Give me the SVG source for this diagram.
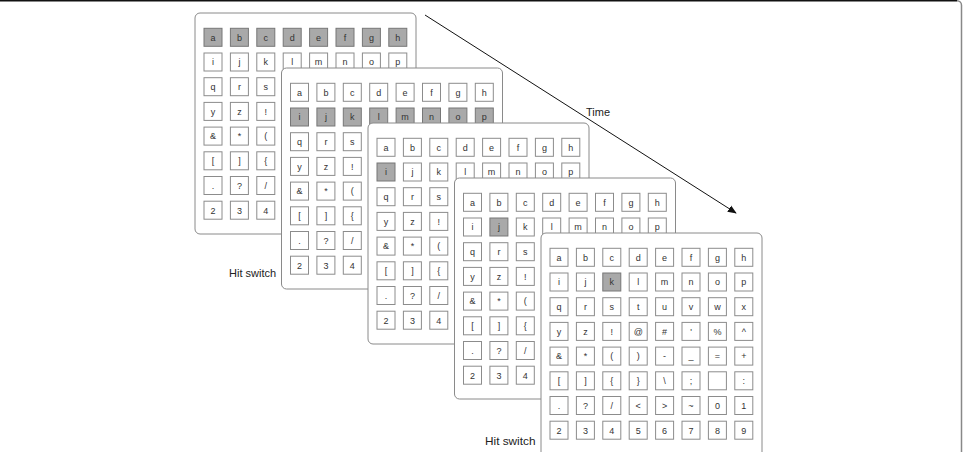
<svg xmlns="http://www.w3.org/2000/svg" xmlns:xlink="http://www.w3.org/1999/xlink" width="964" height="452" viewBox="0 0 964 452">
<style>
.panel{fill:#fff;stroke:#8a8a8a;stroke-width:1}
.t{font-family:"Liberation Sans",Arial,sans-serif;font-size:9px;fill:#333;text-anchor:middle}
.lbl{font-family:"Liberation Sans",Arial,sans-serif;font-size:11px;fill:#222}
</style>
<defs>
<rect id="k" width="18" height="18" fill="#fff" stroke="#8c8c8c" stroke-width="1"/>
<rect id="h" width="18" height="18" fill="#a9a9a9" stroke="#777" stroke-width="1"/>
<marker id="arr" viewBox="0 0 10 10" refX="9" refY="5" markerWidth="9" markerHeight="9" markerUnits="userSpaceOnUse" orient="auto"><path d="M0,1 L10,5 L0,9 z" fill="#111"/></marker>
</defs>
<g id="frame" fill="none">
<path d="M-5 0.75 H957" stroke="#111" stroke-width="1.5"/>
<path d="M957 0.75 A4.5 4.5 0 0 1 961.5 5.25 V460" stroke="#888" stroke-width="1.5"/>
</g>
<g id="connectors">
<line x1="425" y1="15" x2="736" y2="213" stroke="#111" stroke-width="1" marker-end="url(#arr)"/>
</g>
<text id="time-label" class="lbl" x="586" y="116">Time</text>
<text id="hit1" class="lbl" x="229" y="277">Hit switch</text>
<text id="hit2" class="lbl" x="485" y="445" style="font-size:11.8px">Hit switch</text>

<g id="panel1" transform="translate(195,13)">
<rect class="panel" width="221" height="221" rx="5"/>
<use href="#h" x="9" y="15.3"/><use href="#h" x="35.4" y="15.3"/><use href="#h" x="61.8" y="15.3"/><use href="#h" x="88.2" y="15.3"/><use href="#h" x="114.6" y="15.3"/><use href="#h" x="141" y="15.3"/><use href="#h" x="167.4" y="15.3"/><use href="#h" x="193.8" y="15.3"/>
<use href="#k" x="9" y="40"/><use href="#k" x="35.4" y="40"/><use href="#k" x="61.8" y="40"/><use href="#k" x="88.2" y="40"/><use href="#k" x="114.6" y="40"/><use href="#k" x="141" y="40"/><use href="#k" x="167.4" y="40"/><use href="#k" x="193.8" y="40"/>
<use href="#k" x="9" y="64.7"/><use href="#k" x="35.4" y="64.7"/><use href="#k" x="61.8" y="64.7"/>
<use href="#k" x="9" y="89.4"/><use href="#k" x="35.4" y="89.4"/><use href="#k" x="61.8" y="89.4"/>
<use href="#k" x="9" y="114.1"/><use href="#k" x="35.4" y="114.1"/><use href="#k" x="61.8" y="114.1"/>
<use href="#k" x="9" y="138.8"/><use href="#k" x="35.4" y="138.8"/><use href="#k" x="61.8" y="138.8"/>
<use href="#k" x="9" y="163.5"/><use href="#k" x="35.4" y="163.5"/><use href="#k" x="61.8" y="163.5"/>
<use href="#k" x="9" y="188.2"/><use href="#k" x="35.4" y="188.2"/><use href="#k" x="61.8" y="188.2"/>
<text class="t" x="18" y="27.6">a</text><text class="t" x="44.4" y="27.6">b</text><text class="t" x="70.8" y="27.6">c</text><text class="t" x="97.2" y="27.6">d</text><text class="t" x="123.6" y="27.6">e</text><text class="t" x="150" y="27.6">f</text><text class="t" x="176.4" y="27.6">g</text><text class="t" x="202.8" y="27.6">h</text>
<text class="t" x="18" y="52.3">i</text><text class="t" x="44.4" y="52.3">j</text><text class="t" x="70.8" y="52.3">k</text><text class="t" x="97.2" y="52.3">l</text><text class="t" x="123.6" y="52.3">m</text><text class="t" x="150" y="52.3">n</text><text class="t" x="176.4" y="52.3">o</text><text class="t" x="202.8" y="52.3">p</text>
<text class="t" x="18" y="77">q</text><text class="t" x="44.4" y="77">r</text><text class="t" x="70.8" y="77">s</text>
<text class="t" x="18" y="101.7">y</text><text class="t" x="44.4" y="101.7">z</text><text class="t" x="70.8" y="101.7">!</text>
<text class="t" x="18" y="126.4">&amp;</text><text class="t" x="44.4" y="126.4">*</text><text class="t" x="70.8" y="126.4">(</text>
<text class="t" x="18" y="151.1">[</text><text class="t" x="44.4" y="151.1">]</text><text class="t" x="70.8" y="151.1">{</text>
<text class="t" x="18" y="175.8">.</text><text class="t" x="44.4" y="175.8">?</text><text class="t" x="70.8" y="175.8">/</text>
<text class="t" x="18" y="200.5">2</text><text class="t" x="44.4" y="200.5">3</text><text class="t" x="70.8" y="200.5">4</text>
</g>

<g id="panel2" transform="translate(281.5,68)">
<rect class="panel" width="221" height="221" rx="5"/>
<use href="#k" x="9" y="15.3"/><use href="#k" x="35.4" y="15.3"/><use href="#k" x="61.8" y="15.3"/><use href="#k" x="88.2" y="15.3"/><use href="#k" x="114.6" y="15.3"/><use href="#k" x="141" y="15.3"/><use href="#k" x="167.4" y="15.3"/><use href="#k" x="193.8" y="15.3"/>
<use href="#h" x="9" y="40"/><use href="#h" x="35.4" y="40"/><use href="#h" x="61.8" y="40"/><use href="#h" x="88.2" y="40"/><use href="#h" x="114.6" y="40"/><use href="#h" x="141" y="40"/><use href="#h" x="167.4" y="40"/><use href="#h" x="193.8" y="40"/>
<use href="#k" x="9" y="64.7"/><use href="#k" x="35.4" y="64.7"/><use href="#k" x="61.8" y="64.7"/>
<use href="#k" x="9" y="89.4"/><use href="#k" x="35.4" y="89.4"/><use href="#k" x="61.8" y="89.4"/>
<use href="#k" x="9" y="114.1"/><use href="#k" x="35.4" y="114.1"/><use href="#k" x="61.8" y="114.1"/>
<use href="#k" x="9" y="138.8"/><use href="#k" x="35.4" y="138.8"/><use href="#k" x="61.8" y="138.8"/>
<use href="#k" x="9" y="163.5"/><use href="#k" x="35.4" y="163.5"/><use href="#k" x="61.8" y="163.5"/>
<use href="#k" x="9" y="188.2"/><use href="#k" x="35.4" y="188.2"/><use href="#k" x="61.8" y="188.2"/>
<text class="t" x="18" y="27.6">a</text><text class="t" x="44.4" y="27.6">b</text><text class="t" x="70.8" y="27.6">c</text><text class="t" x="97.2" y="27.6">d</text><text class="t" x="123.6" y="27.6">e</text><text class="t" x="150" y="27.6">f</text><text class="t" x="176.4" y="27.6">g</text><text class="t" x="202.8" y="27.6">h</text>
<text class="t" x="18" y="52.3">i</text><text class="t" x="44.4" y="52.3">j</text><text class="t" x="70.8" y="52.3">k</text><text class="t" x="97.2" y="52.3">l</text><text class="t" x="123.6" y="52.3">m</text><text class="t" x="150" y="52.3">n</text><text class="t" x="176.4" y="52.3">o</text><text class="t" x="202.8" y="52.3">p</text>
<text class="t" x="18" y="77">q</text><text class="t" x="44.4" y="77">r</text><text class="t" x="70.8" y="77">s</text>
<text class="t" x="18" y="101.7">y</text><text class="t" x="44.4" y="101.7">z</text><text class="t" x="70.8" y="101.7">!</text>
<text class="t" x="18" y="126.4">&amp;</text><text class="t" x="44.4" y="126.4">*</text><text class="t" x="70.8" y="126.4">(</text>
<text class="t" x="18" y="151.1">[</text><text class="t" x="44.4" y="151.1">]</text><text class="t" x="70.8" y="151.1">{</text>
<text class="t" x="18" y="175.8">.</text><text class="t" x="44.4" y="175.8">?</text><text class="t" x="70.8" y="175.8">/</text>
<text class="t" x="18" y="200.5">2</text><text class="t" x="44.4" y="200.5">3</text><text class="t" x="70.8" y="200.5">4</text>
</g>

<g id="panel3" transform="translate(368,123)">
<rect class="panel" width="221" height="221" rx="5"/>
<use href="#k" x="9" y="15.3"/><use href="#k" x="35.4" y="15.3"/><use href="#k" x="61.8" y="15.3"/><use href="#k" x="88.2" y="15.3"/><use href="#k" x="114.6" y="15.3"/><use href="#k" x="141" y="15.3"/><use href="#k" x="167.4" y="15.3"/><use href="#k" x="193.8" y="15.3"/>
<use href="#h" x="9" y="40"/><use href="#k" x="35.4" y="40"/><use href="#k" x="61.8" y="40"/><use href="#k" x="88.2" y="40"/><use href="#k" x="114.6" y="40"/><use href="#k" x="141" y="40"/><use href="#k" x="167.4" y="40"/><use href="#k" x="193.8" y="40"/>
<use href="#k" x="9" y="64.7"/><use href="#k" x="35.4" y="64.7"/><use href="#k" x="61.8" y="64.7"/>
<use href="#k" x="9" y="89.4"/><use href="#k" x="35.4" y="89.4"/><use href="#k" x="61.8" y="89.4"/>
<use href="#k" x="9" y="114.1"/><use href="#k" x="35.4" y="114.1"/><use href="#k" x="61.8" y="114.1"/>
<use href="#k" x="9" y="138.8"/><use href="#k" x="35.4" y="138.8"/><use href="#k" x="61.8" y="138.8"/>
<use href="#k" x="9" y="163.5"/><use href="#k" x="35.4" y="163.5"/><use href="#k" x="61.8" y="163.5"/>
<use href="#k" x="9" y="188.2"/><use href="#k" x="35.4" y="188.2"/><use href="#k" x="61.8" y="188.2"/>
<text class="t" x="18" y="27.6">a</text><text class="t" x="44.4" y="27.6">b</text><text class="t" x="70.8" y="27.6">c</text><text class="t" x="97.2" y="27.6">d</text><text class="t" x="123.6" y="27.6">e</text><text class="t" x="150" y="27.6">f</text><text class="t" x="176.4" y="27.6">g</text><text class="t" x="202.8" y="27.6">h</text>
<text class="t" x="18" y="52.3">i</text><text class="t" x="44.4" y="52.3">j</text><text class="t" x="70.8" y="52.3">k</text><text class="t" x="97.2" y="52.3">l</text><text class="t" x="123.6" y="52.3">m</text><text class="t" x="150" y="52.3">n</text><text class="t" x="176.4" y="52.3">o</text><text class="t" x="202.8" y="52.3">p</text>
<text class="t" x="18" y="77">q</text><text class="t" x="44.4" y="77">r</text><text class="t" x="70.8" y="77">s</text>
<text class="t" x="18" y="101.7">y</text><text class="t" x="44.4" y="101.7">z</text><text class="t" x="70.8" y="101.7">!</text>
<text class="t" x="18" y="126.4">&amp;</text><text class="t" x="44.4" y="126.4">*</text><text class="t" x="70.8" y="126.4">(</text>
<text class="t" x="18" y="151.1">[</text><text class="t" x="44.4" y="151.1">]</text><text class="t" x="70.8" y="151.1">{</text>
<text class="t" x="18" y="175.8">.</text><text class="t" x="44.4" y="175.8">?</text><text class="t" x="70.8" y="175.8">/</text>
<text class="t" x="18" y="200.5">2</text><text class="t" x="44.4" y="200.5">3</text><text class="t" x="70.8" y="200.5">4</text>
</g>

<g id="panel4" transform="translate(454.5,178)">
<rect class="panel" width="221" height="221" rx="5"/>
<use href="#k" x="9" y="15.3"/><use href="#k" x="35.4" y="15.3"/><use href="#k" x="61.8" y="15.3"/><use href="#k" x="88.2" y="15.3"/><use href="#k" x="114.6" y="15.3"/><use href="#k" x="141" y="15.3"/><use href="#k" x="167.4" y="15.3"/><use href="#k" x="193.8" y="15.3"/>
<use href="#k" x="9" y="40"/><use href="#h" x="35.4" y="40"/><use href="#k" x="61.8" y="40"/><use href="#k" x="88.2" y="40"/><use href="#k" x="114.6" y="40"/><use href="#k" x="141" y="40"/><use href="#k" x="167.4" y="40"/><use href="#k" x="193.8" y="40"/>
<use href="#k" x="9" y="64.7"/><use href="#k" x="35.4" y="64.7"/><use href="#k" x="61.8" y="64.7"/>
<use href="#k" x="9" y="89.4"/><use href="#k" x="35.4" y="89.4"/><use href="#k" x="61.8" y="89.4"/>
<use href="#k" x="9" y="114.1"/><use href="#k" x="35.4" y="114.1"/><use href="#k" x="61.8" y="114.1"/>
<use href="#k" x="9" y="138.8"/><use href="#k" x="35.4" y="138.8"/><use href="#k" x="61.8" y="138.8"/>
<use href="#k" x="9" y="163.5"/><use href="#k" x="35.4" y="163.5"/><use href="#k" x="61.8" y="163.5"/>
<use href="#k" x="9" y="188.2"/><use href="#k" x="35.4" y="188.2"/><use href="#k" x="61.8" y="188.2"/>
<text class="t" x="18" y="27.6">a</text><text class="t" x="44.4" y="27.6">b</text><text class="t" x="70.8" y="27.6">c</text><text class="t" x="97.2" y="27.6">d</text><text class="t" x="123.6" y="27.6">e</text><text class="t" x="150" y="27.6">f</text><text class="t" x="176.4" y="27.6">g</text><text class="t" x="202.8" y="27.6">h</text>
<text class="t" x="18" y="52.3">i</text><text class="t" x="44.4" y="52.3">j</text><text class="t" x="70.8" y="52.3">k</text><text class="t" x="97.2" y="52.3">l</text><text class="t" x="123.6" y="52.3">m</text><text class="t" x="150" y="52.3">n</text><text class="t" x="176.4" y="52.3">o</text><text class="t" x="202.8" y="52.3">p</text>
<text class="t" x="18" y="77">q</text><text class="t" x="44.4" y="77">r</text><text class="t" x="70.8" y="77">s</text>
<text class="t" x="18" y="101.7">y</text><text class="t" x="44.4" y="101.7">z</text><text class="t" x="70.8" y="101.7">!</text>
<text class="t" x="18" y="126.4">&amp;</text><text class="t" x="44.4" y="126.4">*</text><text class="t" x="70.8" y="126.4">(</text>
<text class="t" x="18" y="151.1">[</text><text class="t" x="44.4" y="151.1">]</text><text class="t" x="70.8" y="151.1">{</text>
<text class="t" x="18" y="175.8">.</text><text class="t" x="44.4" y="175.8">?</text><text class="t" x="70.8" y="175.8">/</text>
<text class="t" x="18" y="200.5">2</text><text class="t" x="44.4" y="200.5">3</text><text class="t" x="70.8" y="200.5">4</text>
</g>

<g id="panel5" transform="translate(541,233)">
<rect class="panel" width="221" height="225" rx="5"/>
<use href="#k" x="9" y="15.3"/><use href="#k" x="35.4" y="15.3"/><use href="#k" x="61.8" y="15.3"/><use href="#k" x="88.2" y="15.3"/><use href="#k" x="114.6" y="15.3"/><use href="#k" x="141" y="15.3"/><use href="#k" x="167.4" y="15.3"/><use href="#k" x="193.8" y="15.3"/>
<use href="#k" x="9" y="40"/><use href="#k" x="35.4" y="40"/><use href="#h" x="61.8" y="40"/><use href="#k" x="88.2" y="40"/><use href="#k" x="114.6" y="40"/><use href="#k" x="141" y="40"/><use href="#k" x="167.4" y="40"/><use href="#k" x="193.8" y="40"/>
<use href="#k" x="9" y="64.7"/><use href="#k" x="35.4" y="64.7"/><use href="#k" x="61.8" y="64.7"/><use href="#k" x="88.2" y="64.7"/><use href="#k" x="114.6" y="64.7"/><use href="#k" x="141" y="64.7"/><use href="#k" x="167.4" y="64.7"/><use href="#k" x="193.8" y="64.7"/>
<use href="#k" x="9" y="89.4"/><use href="#k" x="35.4" y="89.4"/><use href="#k" x="61.8" y="89.4"/><use href="#k" x="88.2" y="89.4"/><use href="#k" x="114.6" y="89.4"/><use href="#k" x="141" y="89.4"/><use href="#k" x="167.4" y="89.4"/><use href="#k" x="193.8" y="89.4"/>
<use href="#k" x="9" y="114.1"/><use href="#k" x="35.4" y="114.1"/><use href="#k" x="61.8" y="114.1"/><use href="#k" x="88.2" y="114.1"/><use href="#k" x="114.6" y="114.1"/><use href="#k" x="141" y="114.1"/><use href="#k" x="167.4" y="114.1"/><use href="#k" x="193.8" y="114.1"/>
<use href="#k" x="9" y="138.8"/><use href="#k" x="35.4" y="138.8"/><use href="#k" x="61.8" y="138.8"/><use href="#k" x="88.2" y="138.8"/><use href="#k" x="114.6" y="138.8"/><use href="#k" x="141" y="138.8"/><use href="#k" x="167.4" y="138.8"/><use href="#k" x="193.8" y="138.8"/>
<use href="#k" x="9" y="163.5"/><use href="#k" x="35.4" y="163.5"/><use href="#k" x="61.8" y="163.5"/><use href="#k" x="88.2" y="163.5"/><use href="#k" x="114.6" y="163.5"/><use href="#k" x="141" y="163.5"/><use href="#k" x="167.4" y="163.5"/><use href="#k" x="193.8" y="163.5"/>
<use href="#k" x="9" y="188.2"/><use href="#k" x="35.4" y="188.2"/><use href="#k" x="61.8" y="188.2"/><use href="#k" x="88.2" y="188.2"/><use href="#k" x="114.6" y="188.2"/><use href="#k" x="141" y="188.2"/><use href="#k" x="167.4" y="188.2"/><use href="#k" x="193.8" y="188.2"/>
<text class="t" x="18" y="27.6">a</text><text class="t" x="44.4" y="27.6">b</text><text class="t" x="70.8" y="27.6">c</text><text class="t" x="97.2" y="27.6">d</text><text class="t" x="123.6" y="27.6">e</text><text class="t" x="150" y="27.6">f</text><text class="t" x="176.4" y="27.6">g</text><text class="t" x="202.8" y="27.6">h</text>
<text class="t" x="18" y="52.3">i</text><text class="t" x="44.4" y="52.3">j</text><text class="t" x="70.8" y="52.3">k</text><text class="t" x="97.2" y="52.3">l</text><text class="t" x="123.6" y="52.3">m</text><text class="t" x="150" y="52.3">n</text><text class="t" x="176.4" y="52.3">o</text><text class="t" x="202.8" y="52.3">p</text>
<text class="t" x="18" y="77">q</text><text class="t" x="44.4" y="77">r</text><text class="t" x="70.8" y="77">s</text><text class="t" x="97.2" y="77">t</text><text class="t" x="123.6" y="77">u</text><text class="t" x="150" y="77">v</text><text class="t" x="176.4" y="77">w</text><text class="t" x="202.8" y="77">x</text>
<text class="t" x="18" y="101.7">y</text><text class="t" x="44.4" y="101.7">z</text><text class="t" x="70.8" y="101.7">!</text><text class="t" x="97.2" y="101.7">@</text><text class="t" x="123.6" y="101.7">#</text><text class="t" x="150" y="101.7">'</text><text class="t" x="176.4" y="101.7">%</text><text class="t" x="202.8" y="101.7">^</text>
<text class="t" x="18" y="126.4">&amp;</text><text class="t" x="44.4" y="126.4">*</text><text class="t" x="70.8" y="126.4">(</text><text class="t" x="97.2" y="126.4">)</text><text class="t" x="123.6" y="126.4">-</text><text class="t" x="150" y="126.4">_</text><text class="t" x="176.4" y="126.4">=</text><text class="t" x="202.8" y="126.4">+</text>
<text class="t" x="18" y="151.1">[</text><text class="t" x="44.4" y="151.1">]</text><text class="t" x="70.8" y="151.1">{</text><text class="t" x="97.2" y="151.1">}</text><text class="t" x="123.6" y="151.1">\</text><text class="t" x="150" y="151.1">;</text><text class="t" x="202.8" y="151.1">:</text>
<text class="t" x="18" y="175.8">.</text><text class="t" x="44.4" y="175.8">?</text><text class="t" x="70.8" y="175.8">/</text><text class="t" x="97.2" y="175.8">&lt;</text><text class="t" x="123.6" y="175.8">&gt;</text><text class="t" x="150" y="175.8">~</text><text class="t" x="176.4" y="175.8">0</text><text class="t" x="202.8" y="175.8">1</text>
<text class="t" x="18" y="200.5">2</text><text class="t" x="44.4" y="200.5">3</text><text class="t" x="70.8" y="200.5">4</text><text class="t" x="97.2" y="200.5">5</text><text class="t" x="123.6" y="200.5">6</text><text class="t" x="150" y="200.5">7</text><text class="t" x="176.4" y="200.5">8</text><text class="t" x="202.8" y="200.5">9</text>
</g>
</svg>
